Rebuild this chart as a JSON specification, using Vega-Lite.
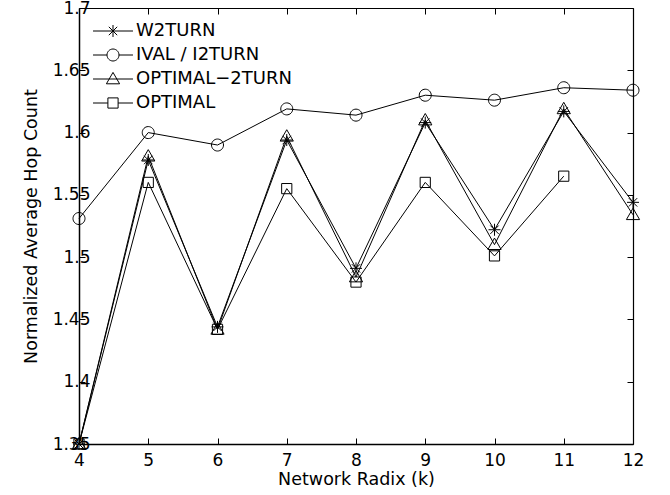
{
  "$schema": "https://vega.github.io/schema/vega-lite/v6.json",
  "width": 554,
  "height": 436,
  "autosize": {"type": "none"},
  "padding": {"left": 79, "top": 8, "right": 37, "bottom": 51},
  "background": "white",
  "config": {
    "view": {"stroke": null},
    "font": "DejaVu Sans",
    "axis": {
      "domainColor": "black", "domainWidth": 1.5, "tickColor": "black", "tickWidth": 1,
      "labelColor": "black", "titleColor": "black", "labelFont": "DejaVu Sans", "titleFont": "DejaVu Sans",
      "labelFontSize": 17, "titleFontSize": 17.5, "titleFontWeight": "normal", "grid": false,
      "tickSize": -6, "labelFlush": false, "labelOverlap": false, "labelBound": false
    },
    "legend": {"labelFont": "DejaVu Sans", "labelFontSize": 18, "labelColor": "black"}
  },
  "data": {"values": [
    {"k": 4, "series": "W2TURN", "v": 1.35},
    {"k": 5, "series": "W2TURN", "v": 1.578},
    {"k": 6, "series": "W2TURN", "v": 1.444},
    {"k": 7, "series": "W2TURN", "v": 1.594},
    {"k": 8, "series": "W2TURN", "v": 1.491},
    {"k": 9, "series": "W2TURN", "v": 1.608},
    {"k": 10, "series": "W2TURN", "v": 1.522},
    {"k": 11, "series": "W2TURN", "v": 1.617},
    {"k": 12, "series": "W2TURN", "v": 1.544},
    {"k": 4, "series": "IVAL / I2TURN", "v": 1.531},
    {"k": 5, "series": "IVAL / I2TURN", "v": 1.600},
    {"k": 6, "series": "IVAL / I2TURN", "v": 1.590},
    {"k": 7, "series": "IVAL / I2TURN", "v": 1.619},
    {"k": 8, "series": "IVAL / I2TURN", "v": 1.614},
    {"k": 9, "series": "IVAL / I2TURN", "v": 1.630},
    {"k": 10, "series": "IVAL / I2TURN", "v": 1.626},
    {"k": 11, "series": "IVAL / I2TURN", "v": 1.636},
    {"k": 12, "series": "IVAL / I2TURN", "v": 1.634},
    {"k": 4, "series": "OPTIMAL−2TURN", "v": 1.35},
    {"k": 5, "series": "OPTIMAL−2TURN", "v": 1.581},
    {"k": 6, "series": "OPTIMAL−2TURN", "v": 1.442},
    {"k": 7, "series": "OPTIMAL−2TURN", "v": 1.597},
    {"k": 8, "series": "OPTIMAL−2TURN", "v": 1.484},
    {"k": 9, "series": "OPTIMAL−2TURN", "v": 1.610},
    {"k": 10, "series": "OPTIMAL−2TURN", "v": 1.510},
    {"k": 11, "series": "OPTIMAL−2TURN", "v": 1.619},
    {"k": 12, "series": "OPTIMAL−2TURN", "v": 1.534},
    {"k": 4, "series": "OPTIMAL", "v": 1.35},
    {"k": 5, "series": "OPTIMAL", "v": 1.560},
    {"k": 6, "series": "OPTIMAL", "v": 1.442},
    {"k": 7, "series": "OPTIMAL", "v": 1.555},
    {"k": 8, "series": "OPTIMAL", "v": 1.480},
    {"k": 9, "series": "OPTIMAL", "v": 1.560},
    {"k": 10, "series": "OPTIMAL", "v": 1.501},
    {"k": 11, "series": "OPTIMAL", "v": 1.565}
  ]},
  "resolve": {"axis": {"x": "independent", "y": "independent"}, "scale": {"shape": "independent"}},
  "layer": [
    {
      "mark": {"type": "line", "color": "black", "strokeWidth": 1},
      "encoding": {
        "x": {"field": "k", "type": "quantitative", "scale": {"domain": [4, 12], "nice": false, "zero": false},
              "axis": {"orient": "bottom", "values": [4,5,6,7,8,9,10,11,12], "format": "d", "title": "Network Radix (k)", "labelPadding": 14, "titlePadding": 2}},
        "y": {"field": "v", "type": "quantitative", "scale": {"domain": [1.35, 1.7], "nice": false, "zero": false},
              "axis": {"orient": "left", "values": [1.35,1.4,1.45,1.5,1.55,1.6,1.65,1.7], "format": ".2~f", "title": "Normalized Average Hop Count", "labelPadding": -5, "titlePadding": 12}},
        "detail": {"field": "series"}
      }
    },
    {
      "mark": {"type": "point", "filled": false, "stroke": "black", "strokeWidth": 1, "opacity": 1, "size": 144},
      "encoding": {
        "x": {"field": "k", "type": "quantitative", "axis": null},
        "y": {"field": "v", "type": "quantitative", "axis": null},
        "shape": {"field": "series", "type": "nominal", "legend": null,
          "scale": {"domain": ["W2TURN", "IVAL / I2TURN", "OPTIMAL−2TURN", "OPTIMAL"],
                    "range": ["M0,-1L0,1M-1,0L1,0M-0.7,-0.7L0.7,0.7M-0.7,0.7L0.7,-0.7",
                              "M-1,0A1,1 0 1,1 1,0A1,1 0 1,1 -1,0Z",
                              "M0,-1.1L1.1,0.8L-1.1,0.8Z",
                              "M-0.85,-0.85L0.85,-0.85L0.85,0.85L-0.85,0.85Z"]}
        }
      }
    },
    {
      "transform": [{"filter": "datum.k < 0"}],
      "mark": {"type": "point", "filled": false, "stroke": "black", "strokeWidth": 1, "opacity": 1, "size": 144},
      "encoding": {
        "x": {"field": "k", "type": "quantitative", "axis": null},
        "y": {"field": "v", "type": "quantitative", "axis": null},
        "shape": {"field": "series", "type": "nominal",
          "scale": {"domain": ["W2TURN", "IVAL / I2TURN", "OPTIMAL−2TURN", "OPTIMAL"],
                    "range": ["M-3.33,0L3.33,0M0,-1L0,1M-0.7,-0.7L0.7,0.7M-0.7,0.7L0.7,-0.7",
                              "M-3.33,0L-1,0M1,0L3.33,0M-1,0A1,1 0 1,1 1,0A1,1 0 1,1 -1,0Z",
                              "M-3.33,0L3.33,0M0,-1.1L1.1,0.8L-1.1,0.8Z",
                              "M-3.33,0L-0.85,0M0.85,0L3.33,0M-0.85,-0.85L0.85,-0.85L0.85,0.85L-0.85,0.85Z"]},
          "legend": {
            "title": null, "orient": "none", "legendX": 25, "legendY": 14, "padding": 0,
            "rowPadding": 6, "labelOffset": 14, "symbolSize": 144, "symbolStrokeColor": "black",
            "symbolFillColor": "transparent", "symbolStrokeWidth": 1
          }
        }
      }
    },
    {
      "mark": {"type": "point", "opacity": 0},
      "encoding": {
        "x": {"field": "k", "type": "quantitative",
              "axis": {"orient": "top", "values": [4,5,6,7,8,9,10,11,12], "labels": false, "title": null, "domainWidth": 1.2}},
        "y": {"field": "v", "type": "quantitative",
              "axis": {"orient": "right", "values": [1.35,1.4,1.45,1.5,1.55,1.6,1.65,1.7], "labels": false, "title": null, "domainWidth": 1.2}}
      }
    }
  ]
}
